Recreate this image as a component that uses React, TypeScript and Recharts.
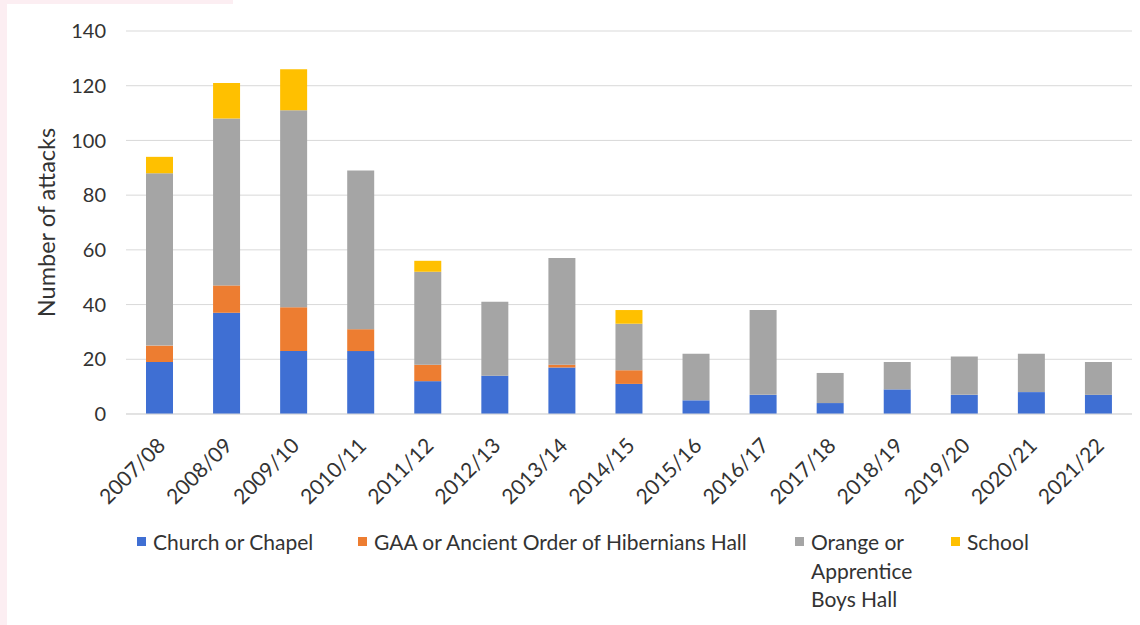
import React from 'react';
import { BarChart, Bar, XAxis, YAxis, CartesianGrid, Legend, Label } from 'recharts';

const years = ['2007/08', '2008/09', '2009/10', '2010/11', '2011/12', '2012/13', '2013/14', '2014/15', '2015/16', '2016/17', '2017/18', '2018/19', '2019/20', '2020/21', '2021/22'];
const church = [19, 37, 23, 23, 12, 14, 17, 11, 5, 7, 4, 9, 7, 8, 7];
const gaa = [6, 10, 16, 8, 6, 0, 1, 5, 0, 0, 0, 0, 0, 0, 0];
const orange = [63, 61, 72, 58, 34, 27, 39, 17, 17, 31, 11, 10, 14, 14, 12];
const school = [6, 13, 15, 0, 4, 0, 0, 5, 0, 0, 0, 0, 0, 0, 0];
const yTicks = [0, 20, 40, 60, 80, 100, 120, 140];

const seriesNames = ['Church or Chapel', 'GAA or Ancient Order of Hibernians Hall', 'Orange or Apprentice Boys Hall', 'School'];
const colors = ['#3F6FD3', '#ED7D31', '#A5A5A5', '#FFC000'];

const data = years.map((y, i) => ({
  year: y,
  church: church[i],
  gaa: gaa[i],
  orange: orange[i],
  school: school[i],
}));

const FONT = 'Lato, "Open Sans", sans-serif';
const TEXT = '#333333';

const XTick = (props: any) => {
  const { x, y, payload } = props;
  const ax = x + 7;
  const ay = y + 33;
  return (
    <text
      x={ax}
      y={ay}
      transform={`rotate(-45 ${ax} ${ay})`}
      textAnchor="end"
      fontSize={21}
      fontFamily={FONT}
      fill={TEXT}
    >
      {payload.value}
    </text>
  );
};

const legendItems = [
  { name: seriesNames[0], color: colors[0], sq: 137, lines: ['Church or Chapel'] },
  { name: seriesNames[1], color: colors[1], sq: 358, lines: ['GAA or Ancient Order of Hibernians Hall'] },
  { name: seriesNames[2], color: colors[2], sq: 795, lines: ['Orange or', 'Apprentice', 'Boys Hall'] },
  { name: seriesNames[3], color: colors[3], sq: 951, lines: ['School'] },
];

const LegendContent = () => (
  <div style={{ position: 'relative', width: 1140, height: 0 }}>
    {legendItems.map((it) => (
      <div key={it.name}>
        <div
          style={{
            position: 'absolute',
            left: it.sq,
            top: 537,
            width: 9,
            height: 9,
            background: it.color,
          }}
        />
        {it.lines.map((ln, j) => (
          <div
            key={ln}
            style={{
              position: 'absolute',
              left: it.sq + 16,
              top: 528 + j * 28.5,
              fontFamily: FONT,
              fontSize: 21,
              lineHeight: '28px',
              color: TEXT,
              whiteSpace: 'nowrap',
            }}
          >
            {ln}
          </div>
        ))}
      </div>
    ))}
  </div>
);

export default function App() {
  return (
    <div style={{ position: 'absolute', left: 0, top: 0, width: 1140, height: 625, background: '#ffffff' }}>
      <div style={{ position: 'absolute', left: 0, top: 0, width: 7, height: 625, background: '#FCEEF2' }} />
      <div style={{ position: 'absolute', left: 0, top: 0, width: 233, height: 4, background: '#FCEEF2' }} />
      <div style={{ position: 'absolute', left: 0, top: 0 }}>
        <BarChart
          width={1140}
          height={625}
          data={data}
          margin={{ top: 31, right: 8, left: 0, bottom: 111 }}
          barSize={27}
        >
          <CartesianGrid vertical={false} stroke="#D9D9D9" strokeWidth={1} />
          <XAxis
            dataKey="year"
            interval={0}
            height={100}
            tickLine={false}
            tickSize={0}
            tickMargin={0}
            axisLine={{ stroke: '#D9D9D9' }}
            tick={<XTick />}
          />
          <YAxis
            width={126}
            domain={[0, 140]}
            ticks={yTicks}
            interval={0}
            axisLine={false}
            tickLine={false}
            tickSize={0}
            tickMargin={20}
            tick={{ fontSize: 20, fontFamily: FONT, fill: TEXT }}
          >
            <Label
              value="Number of attacks"
              angle={-90}
              position="insideLeft"
              offset={47}
              style={{ textAnchor: 'middle', fontSize: 23.5, fontFamily: FONT, fill: TEXT }}
            />
          </YAxis>
          <Legend
            content={<LegendContent />}
            wrapperStyle={{ left: 0, top: 0, width: 1140, height: 0 }}
          />
          <Bar dataKey="church" name={seriesNames[0]} stackId="a" fill={colors[0]} isAnimationActive={false} />
          <Bar dataKey="gaa" name={seriesNames[1]} stackId="a" fill={colors[1]} isAnimationActive={false} />
          <Bar dataKey="orange" name={seriesNames[2]} stackId="a" fill={colors[2]} isAnimationActive={false} />
          <Bar dataKey="school" name={seriesNames[3]} stackId="a" fill={colors[3]} isAnimationActive={false} />
        </BarChart>
      </div>
    </div>
  );
}
